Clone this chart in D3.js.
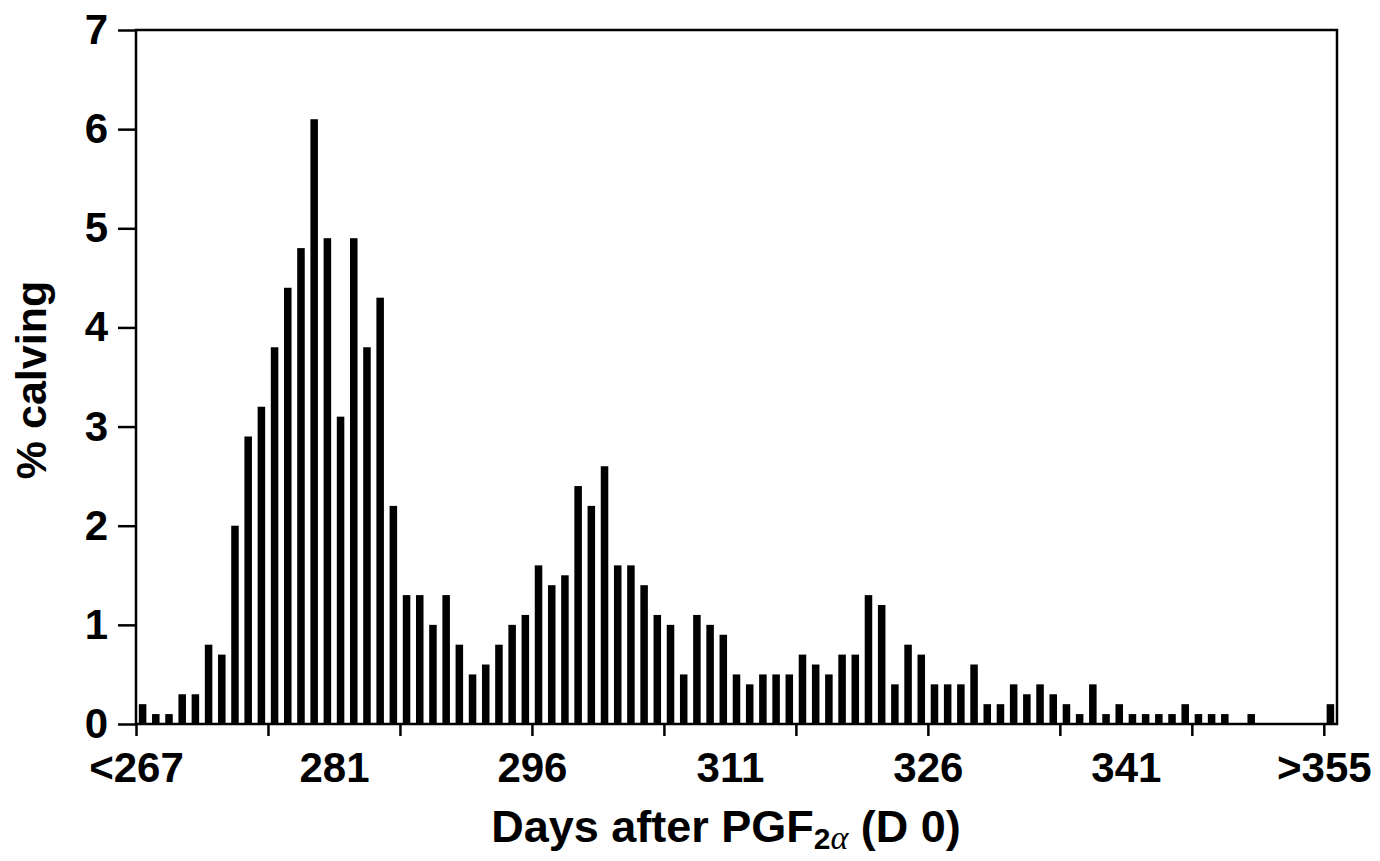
<!DOCTYPE html>
<html>
<head>
<meta charset="utf-8">
<script src="https://cdn.jsdelivr.net/npm/d3@7"></script>
<style>
  body { margin: 0; background: #fff; }
  svg { display: block; }
  text { font-family: "Liberation Sans", Arial, sans-serif; font-weight: bold; fill: #000; }
</style>
</head>
<body>
<div id="chart"></div>
<script>
// Days after PGF2a (first and last bins are "<267" and ">355")
const DAYS = [266, 267, 268, 269, 270, 271, 272, 273, 274, 275,
              276, 277, 278, 279, 280, 281, 282, 283, 284, 285,
              286, 287, 288, 289, 290, 291, 292, 293, 294, 295,
              296, 297, 298, 299, 300, 301, 302, 303, 304, 305,
              306, 307, 308, 309, 310, 311, 312, 313, 314, 315,
              316, 317, 318, 319, 320, 321, 322, 323, 324, 325,
              326, 327, 328, 329, 330, 331, 332, 333, 334, 335,
              336, 337, 338, 339, 340, 341, 342, 343, 344, 345,
              346, 347, 348, 349, 350, 351, 352, 353, 354, 355, 356];

// % calving per day
const PCT = [0.2, 0.1, 0.1, 0.3, 0.3, 0.8, 0.7, 2.0, 2.9, 3.2,
             3.8, 4.4, 4.8, 6.1, 4.9, 3.1, 4.9, 3.8, 4.3, 2.2,
             1.3, 1.3, 1.0, 1.3, 0.8, 0.5, 0.6, 0.8, 1.0, 1.1,
             1.6, 1.4, 1.5, 2.4, 2.2, 2.6, 1.6, 1.6, 1.4, 1.1,
             1.0, 0.5, 1.1, 1.0, 0.9, 0.5, 0.4, 0.5, 0.5, 0.5,
             0.7, 0.6, 0.5, 0.7, 0.7, 1.3, 1.2, 0.4, 0.8, 0.7,
             0.4, 0.4, 0.4, 0.6, 0.2, 0.2, 0.4, 0.3, 0.4, 0.3,
             0.2, 0.1, 0.4, 0.1, 0.2, 0.1, 0.1, 0.1, 0.1, 0.2,
             0.1, 0.1, 0.1, 0, 0.1, 0, 0, 0, 0, 0, 0.2];

// tick marks every 10 days, labels every 15
const TICK_DAYS = [266, 276, 286, 296, 306, 316, 326, 336, 346, 356];
const LABEL_DAYS = [266, 281, 296, 311, 326, 341, 356];
const LABEL_TEXT = ["<267", "281", "296", "311", "326", "341", ">355"];
const Y_TICKS = [0, 1, 2, 3, 4, 5, 6, 7];

const WIDTH = 1380;
const HEIGHT = 861;
const margin = { top: 30, right: 43, bottom: 137, left: 136 };

const svg = d3.select("#chart").append("svg")
    .attr("width", WIDTH)
    .attr("height", HEIGHT);

const x = d3.scaleLinear()
    .domain([266, 357])
    .range([margin.left, WIDTH - margin.right]);

const y = d3.scaleLinear()
    .domain([0, 7])
    .range([HEIGHT - margin.bottom, margin.top]);

const step = x(267) - x(266);
const barW = step * 0.57;

// bars
svg.append("g")
    .selectAll("rect")
    .data(DAYS.map((d, i) => ({ day: d, v: PCT[i] })).filter(d => d.v > 0))
    .enter().append("rect")
    .attr("x", d => x(d.day) + (step - barW) / 2)
    .attr("y", d => y(d.v))
    .attr("width", barW)
    .attr("height", d => y(0) - y(d.v))
    .attr("fill", "#000");

// frame
svg.append("rect")
    .attr("x", x(266))
    .attr("y", y(7))
    .attr("width", x(357) - x(266))
    .attr("height", y(0) - y(7))
    .attr("fill", "none")
    .attr("stroke", "#000")
    .attr("stroke-width", 2.5);

// x axis ticks
const xTicks = svg.append("g")
    .attr("transform", `translate(0,${y(0)})`)
    .call(d3.axisBottom(x).tickValues(TICK_DAYS).tickSize(12).tickFormat(""));

// x axis labels
const xLabels = svg.append("g")
    .attr("transform", `translate(0,${y(0)})`)
    .call(d3.axisBottom(x).tickValues(LABEL_DAYS).tickSize(0).tickPadding(28)
        .tickFormat((d, i) => LABEL_TEXT[i]));
xLabels.selectAll("line").remove();

// y axis
const yAxis = svg.append("g")
    .attr("transform", `translate(${x(266)},0)`)
    .call(d3.axisLeft(y).tickValues(Y_TICKS).tickSize(18).tickPadding(10).tickFormat(d3.format("d")));

[xTicks, xLabels, yAxis].forEach(g => {
    g.select(".domain").remove();
    g.selectAll("line").attr("stroke", "#000").attr("stroke-width", 2.5);
    g.selectAll("text")
        .attr("fill", "#000")
        .style("font-family", '"Liberation Sans", Arial, sans-serif')
        .style("font-weight", "bold")
        .style("font-size", "42px");
});

// x title
const xt = svg.append("text")
    .attr("x", 726)
    .attr("y", 842)
    .attr("text-anchor", "middle")
    .style("font-size", "45px");
xt.append("tspan").text("Days after PGF");
xt.append("tspan").attr("dy", 7).style("font-size", "30px").text("2");
xt.append("tspan")
    .style("font-size", "34px")
    .style("font-family", '"Liberation Serif", "DejaVu Serif", serif')
    .style("font-weight", "normal")
    .style("font-style", "italic")
    .text("\u03b1");
xt.append("tspan").attr("dy", -7).text(" (D 0)");

// y title
svg.append("text")
    .attr("transform", "translate(46,380) rotate(-90)")
    .attr("text-anchor", "middle")
    .style("font-size", "43px")
    .text("% calving");
</script>
</body>
</html>
